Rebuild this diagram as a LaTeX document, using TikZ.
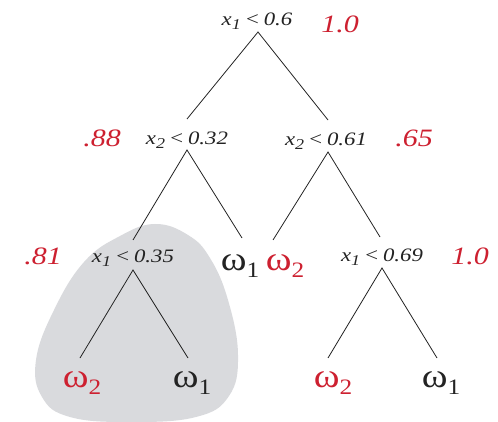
\documentclass[tikz,border=0pt]{standalone}
\usepackage{fontspec}
\setmainfont{Liberation Serif}
\definecolor{redn}{RGB}{205,32,48}
\definecolor{blobc}{RGB}{217,218,221}
\definecolor{ink}{RGB}{35,35,35}
\newcommand{\cnd}[2]{\scalebox{1.2}[1]{\itshape\fontsize{19}{19}\selectfont x\raisebox{-4pt}{\fontsize{15}{15}\selectfont #1}\,<\,#2}}
\newcommand{\omg}[1]{\scalebox{1.15}[1]{\fontsize{34}{34}\selectfont ω\raisebox{-7pt}{\fontsize{22}{22}\selectfont #1}}}
\newcommand{\prb}[1]{\scalebox{1.2}[1]{\itshape\fontsize{25}{25}\selectfont #1}}
\begin{document}
\begin{tikzpicture}[x=1pt,y=-1pt,
  condn/.style={inner sep=0pt,text=ink},
  prob/.style={inner sep=0pt,text=redn},
  leafk/.style={inner sep=0pt,anchor=base,text=ink},
  leafr/.style={leafk,text=redn},
  edge/.style={draw=ink,line width=0.8pt}]
\useasboundingbox (0,0) rectangle (498,422);
% shaded subtree
\fill[blobc] plot[smooth cycle,tension=0.7] coordinates {
  (155,224) (188,235) (210,258) (228,300) (238,355) (229,396) (196,417)
  (130,422) (70,417) (42,397) (36,360) (54,310) (84,262) (120,236)};
% condition nodes
\node[condn] (root) at (257,21) {\cnd{1}{0.6}};
\node[prob]  (proot) at (340,24) {\prb{1.0}};
\node[condn] (nA) at (187,140) {\cnd{2}{0.32}};
\node[prob]  (pA) at (102,138) {\prb{.88}};
\node[condn] (nB) at (326,141) {\cnd{2}{0.61}};
\node[prob]  (pB) at (414,138) {\prb{.65}};
\node[condn] (nC) at (133,258) {\cnd{1}{0.35}};
\node[prob]  (pC) at (43,256) {\prb{.81}};
\node[condn] (nD) at (382,257) {\cnd{1}{0.69}};
\node[prob]  (pD) at (470,256) {\prb{1.0}};
% leaves
\node[leafk] (lA) at (240,270) {\omg{1}};
\node[leafr] (lB) at (285,270) {\omg{2}};
\node[leafr] (lC) at (82,387) {\omg{2}};
\node[leafk] (lD) at (192,387) {\omg{1}};
\node[leafr] (lE) at (333,387) {\omg{2}};
\node[leafk] (lF) at (441,387) {\omg{1}};
% connector end points
\coordinate (root-b) at (258,32);
\coordinate (nA-t) at (187,119);
\coordinate (nB-t) at (328,120);
\coordinate (nA-b) at (187,150);
\coordinate (nC-t) at (133,240);
\coordinate (lA-t) at (242,238);
\coordinate (nB-b) at (328,152);
\coordinate (lB-t) at (273,240);
\coordinate (nD-t) at (380,237);
\coordinate (nC-b) at (133,270);
\coordinate (lC-t) at (80,358);
\coordinate (lD-t) at (188,358);
\coordinate (nD-b) at (382,268);
\coordinate (lE-t) at (328,358);
\coordinate (lF-t) at (437,358);
% connectors
\draw[edge] (nA-t) -- (root-b) -- (nB-t);
\draw[edge] (nC-t) -- (nA-b) -- (lA-t);
\draw[edge] (lB-t) -- (nB-b) -- (nD-t);
\draw[edge] (lC-t) -- (nC-b) -- (lD-t);
\draw[edge] (lE-t) -- (nD-b) -- (lF-t);
\end{tikzpicture}
\end{document}
